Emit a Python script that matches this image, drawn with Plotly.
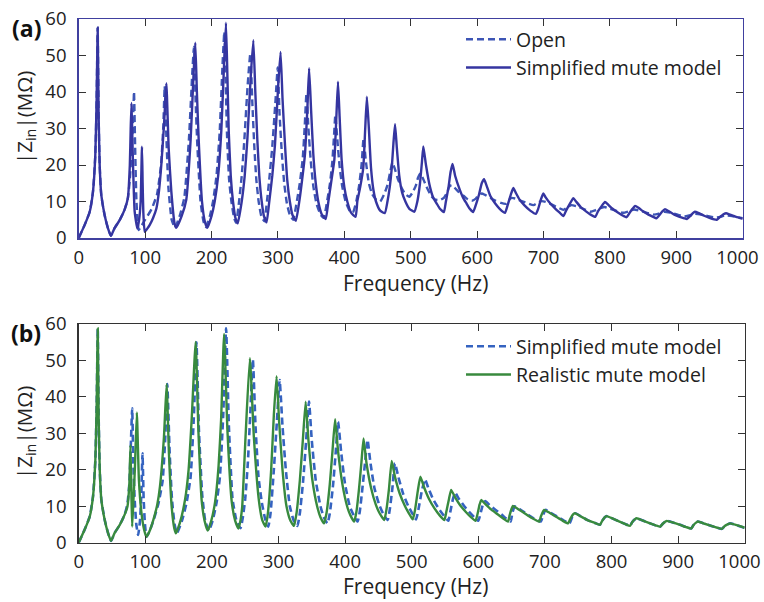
import plotly.graph_objects as go

# ---------------- data ----------------
x_ticks = [0, 100, 200, 300, 400, 500, 600, 700, 800, 900, 1000]
x_tick_labels = ["0", "100", "200", "300", "400", "500", "600", "700", "800", "900", "1000"]
y_ticks = [0, 10, 20, 30, 40, 50, 60]

# panel (a): open bell (dashed)
a_open_pts = [
    (0, 0), (9, 3.6), (16.6, 7.2), (21.5, 12.7), (25, 22.7), (27, 38), (28.6, 57.6), (30, 33.7), (31.6, 20),
    (34, 11.8), (39, 6.3), (44, 2.7), (48.5, 0.6), (54, 2.7), (61.7, 4.9), (69, 7.7), (74, 10.9), (77, 16),
    (80, 25), (82, 33), (83.3, 40.1), (85, 25), (87, 10), (90.4, 2.2), (95, 3.5), (100, 5), (110, 8),
    (118, 12), (124, 20), (127.5, 31), (129.5, 41.6), (132, 28), (135, 14), (140, 5), (145, 2.8),
    (152, 6), (159, 11), (166, 27), (171, 45), (173.6, 52.4), (176, 38), (178.5, 26), (183.5, 10), (188, 4.5), (191.5, 3),
    (197.5, 6), (202.3, 10), (207.5, 17), (212.3, 29), (216.5, 47), (219.3, 56.5), (221.5, 42), (223.4, 28),
    (226.5, 16), (230, 10), (234, 5.5), (237, 4.2),
    (241.5, 10), (245.5, 17), (249.5, 27), (254.5, 42), (258.5, 50.6), (261.5, 37), (264.5, 25), (267.5, 16),
    (271, 10), (275, 6), (279.5, 4.6),
    (283.5, 10), (287.5, 17), (291.5, 25), (296.5, 38), (299.7, 46.7), (302.5, 34), (306, 23), (309.5, 15),
    (313.5, 9.5), (318, 6.3), (323, 5),
    (328.5, 10), (333, 15), (337.5, 22), (340.5, 31), (343, 39.6), (346, 30), (349.5, 21), (353.5, 14),
    (358, 9.5), (364, 6.5), (369, 5.5),
    (374, 10), (378.5, 15), (382, 21), (384.5, 28), (386.5, 33.7), (389.5, 27), (393, 19.5), (397, 14),
    (402, 10), (408, 7.5), (413, 7),
    (418, 10), (422, 14), (426, 20), (429, 27.3), (432.5, 21), (437, 15), (442, 12), (448, 10.5), (454, 10),
    (460, 12), (465, 14.5), (469, 18), (472.5, 20.7), (476, 19), (481, 16), (487, 13.5), (492, 12), (498, 11.3),
    (503, 12.5), (508, 14.5), (511, 16.5), (514.5, 17.7), (518, 16.5), (524, 14), (531, 11.5), (537, 10.5), (544, 10.4),
    (550, 11), (555, 12.5), (558, 14), (561.5, 14.5), (566, 13.8), (573, 12.5), (580, 11.5), (586, 10.6), (592, 10.2),
    (598, 10.8), (603, 11.8), (607, 12.2), (612, 11.8), (620, 11), (628, 10.2), (636, 9.6), (644, 9.4),
    (648, 10.4), (652, 11.0), (658, 10.8), (666, 10.2), (675, 9.6), (685, 9.0),
    (691, 9.6), (697, 10.1), (703, 9.9), (712, 9.2), (721, 8.4), (730, 7.7),
    (737, 8.5), (742, 9.0), (750, 8.7), (760, 8.0), (771, 7.2),
    (778, 7.6), (786, 8.2), (792, 8.5), (800, 8.0), (810, 7.4), (820, 6.9),
    (828, 7.3), (836, 7.8), (846, 7.4), (856, 6.9), (866, 6.4),
    (874, 6.7), (882, 7.2), (892, 6.9), (902, 6.4), (912, 5.9),
    (920, 6.2), (928, 6.6), (938, 6.4), (948, 6.0), (958, 5.6),
    (966, 5.8), (974, 6.2), (984, 6.0), (992, 5.7), (1000, 5.4),
]

# panel (a): simplified mute model (solid)
a_simp_pts = [
    (0, 0), (9, 3.6), (16.6, 7.2), (21.5, 12.7), (25, 22.7), (27, 38), (28.6, 57.6), (30, 33.7), (31.6, 20),
    (34, 11.8), (39, 6.3), (44, 2.7), (48.5, 0.6), (54, 2.7), (61.7, 4.9), (69, 7.7), (74, 10.9), (77, 20),
    (78.3, 30), (79.5, 37), (80.5, 30), (81.8, 20), (84.3, 7.2), (88.3, 2.6), (91, 5), (93.3, 10), (95.3, 25),
    (96.3, 15), (97.3, 7.2), (99.4, 1.7), (103, 2.5), (107, 3.6), (112, 5.5), (117, 8.1), (121, 13), (124.4, 20),
    (128.5, 31), (132, 42.4), (135.5, 24.6), (139.5, 12.7), (144.6, 3.8), (147, 2.8),
    (155, 6), (162, 10.5), (168.6, 27), (173, 45), (175.6, 53.5), (178, 40), (180.7, 27), (185.7, 10), (190, 4.5), (193.7, 2.8),
    (200, 6), (204.8, 10), (210, 17), (214.8, 29.5), (219, 48), (221.8, 59), (224, 44), (225.9, 29.5), (229, 17),
    (232.4, 10), (236, 5.5), (239.5, 4.0),
    (245.5, 10), (250, 17), (254, 27), (259, 44), (263, 54.2), (266, 40), (269, 27), (272, 17), (275.6, 10), (279, 6), (283, 4.3),
    (287, 10), (291.5, 17), (295.6, 25.5), (300.5, 42), (304, 51), (307, 38), (310.7, 25.5), (314, 16), (318, 10), (322, 6.3), (327, 4.7),
    (332.2, 10), (336.5, 16), (340.8, 23), (344.5, 36), (347, 46.5), (350, 35), (353.3, 23), (357, 15), (360.8, 10), (366, 6.5), (372, 5.2),
    (376, 10), (380, 15), (385, 21.4), (388, 33), (390.5, 42.8), (393, 33), (396, 21.4), (400, 14), (404.5, 10), (410, 7), (417, 5.8),
    (419.6, 10), (424, 14), (428.6, 19.3), (431.5, 30), (434, 38.7), (437, 30), (440.2, 19.3), (444, 13), (447.7, 10), (454, 7.5), (461, 6.8),
    (465, 10), (468.5, 14), (471.4, 19), (474, 26), (476.4, 31.2), (479, 25), (482.8, 17), (487, 12.5), (492, 10), (498, 8), (505.5, 7.2),
    (510, 10), (514, 15), (517, 21), (519, 25.1), (523, 20), (529, 14), (534, 11), (539, 9.5), (544, 8), (550, 7.1),
    (553, 10), (557, 14), (560, 18), (563, 20.3), (567, 17), (574, 13.2), (579, 11), (584, 9.5), (589, 8), (594, 7.1),
    (598, 9), (603, 12), (607, 15), (610.5, 16.1), (614, 14.5), (620, 11.5), (627, 9.5), (634, 8), (642, 6.9),
    (646, 9), (651, 12), (654.6, 13.7), (658, 12.5), (664, 10.5), (671, 9), (680, 7.5), (688.5, 6.6),
    (692, 8), (696, 10.5), (699.7, 12.2), (703, 11.2), (710, 9.5), (718, 8), (724, 7), (730, 6.0),
    (734, 7.5), (740, 9.5), (745, 10.9), (749, 10), (756, 8.5), (764, 7.3), (771, 6.4), (778, 5.8),
    (782, 7.3), (787, 8.6), (792.6, 9.9), (797, 9.2), (804, 8), (812, 7), (820, 6.1), (825, 5.7),
    (830, 7), (834, 8), (838, 8.8), (843, 8.3), (850, 7.3), (858, 6.4), (865, 5.8), (870, 5.4),
    (875, 6.4), (879, 7.3), (883, 7.9), (889, 7.3), (897, 6.4), (905, 5.8), (912, 5.4), (916, 5.2),
    (921, 6), (925, 6.8), (928, 7.2), (934, 6.8), (942, 6.1), (950, 5.5), (957, 5.1), (961, 5.0),
    (966, 5.8), (971, 6.5), (975, 6.8), (981, 6.4), (990, 5.8), (1000, 5.3),
]

# panel (b): simplified mute model (dashed)
b_simp_pts = [
    (0, 0), (9, 3.6), (16.6, 7.2), (21.5, 12.7), (25, 22.7), (27, 38), (28.6, 58.8), (30, 34), (31.6, 20),
    (34, 11.8), (39, 6.3), (44, 2.7), (48.5, 0.5), (54, 2.7), (61.7, 4.9), (69, 7.7), (73, 10.5), (76, 16),
    (78.5, 28), (80.3, 36.9), (82, 22), (84, 12), (86.5, 5), (89.3, 2.1), (92, 6), (94, 13), (95.8, 24.5),
    (97.5, 12), (99.5, 5), (101.8, 1.6),
    (106, 3), (113, 6.5), (120, 11), (126, 17), (130, 29), (133, 43.5), (136.5, 25), (140, 12), (144, 5), (147.5, 2.6),
    (155, 6), (162, 11), (168, 18), (173, 35), (176.8, 55), (180.5, 31), (185.5, 13), (190, 6), (195.5, 3.3),
    (201, 6), (207, 11), (212, 18), (217, 35), (221.3, 58.8), (225.5, 32), (231, 12), (237, 6), (243, 4.0),
    (246.5, 7), (250, 12), (254, 22), (257.5, 35), (261.5, 50.3), (265.5, 32), (270, 18), (275, 11), (280, 6.5), (284.6, 4.4),
    (288, 8), (293, 20), (297.5, 33), (301.7, 44.6), (306, 32), (311, 20), (317, 10), (323, 6), (328.3, 4.6),
    (332, 8), (337, 17), (341.5, 28), (345.8, 38.7), (350, 28), (356, 17), (363, 10), (368, 7), (373.5, 5.3),
    (377, 8), (382, 16), (386, 25), (389.5, 33.2), (394, 25), (400, 16), (407, 10), (413, 7.5), (418.7, 5.8),
    (422, 8.5), (426, 15), (430, 22), (433.7, 28.2), (438, 22), (444, 15), (451, 10.5), (457, 8), (463.9, 6.2),
    (467, 9), (471, 15), (474.8, 21.8), (480, 18), (487, 13.5), (495, 10), (501, 8), (506.5, 6.4),
    (510, 9), (515, 14), (520, 17.4), (525, 15), (532, 12), (540, 9.5), (548, 7.5), (555, 6.0),
    (558, 8.5), (562, 12), (565.2, 13.7), (571, 12), (579, 10), (587, 8.3), (594, 7), (600, 6.0),
    (604, 8.5), (607, 10.5), (610.4, 11.4), (617, 10.3), (626, 9), (635, 7.7), (642, 6.6), (648.5, 5.8),
    (651, 8), (654.5, 10), (662, 9.2), (672, 8), (682, 6.8), (694, 5.8),
    (697, 7.5), (701, 9.0), (709, 8.2), (719, 7.1), (728, 6.1), (737, 5.3),
    (741, 7), (746, 8.1), (754, 7.2), (764, 6.2), (774, 5.5), (782.6, 4.9),
    (786, 6), (790, 7), (792.6, 7.3), (802, 6.6), (812, 5.8), (821, 5.1), (827.7, 4.6),
    (831, 5.6), (835, 6.4), (837.8, 6.7), (848, 6.0), (858, 5.3), (867, 4.7), (872.9, 4.4),
    (877, 5.2), (881, 5.8), (883, 6.0), (893, 5.5), (903, 4.9), (912, 4.3), (919.6, 3.9),
    (923, 4.8), (927, 5.5), (929.7, 5.8), (940, 5.2), (950, 4.6), (959, 4.1), (965.8, 3.8),
    (970, 4.6), (975, 5.1), (978.3, 5.3), (988, 4.8), (1000, 4.1),
]

# panel (b): realistic mute model (solid green)
b_real_pts = [
    (0, 0), (9, 3.6), (16.6, 7.2), (21.5, 12.7), (25, 22.7), (27, 38), (28.6, 58.8), (30, 34), (31.6, 20),
    (34, 11.8), (39, 6.3), (44, 2.7), (48.5, 0.5), (54, 2.7), (61.7, 4.9), (69, 7.7), (73.2, 9.9), (76, 16),
    (77.8, 26.8), (79.3, 12), (80.3, 4.4), (82.3, 12), (84.3, 20), (87.3, 35.7), (90.4, 17.2), (94.3, 8.1),
    (98.3, 3.5), (101.8, 1.6),
    (106, 3), (112, 6.2), (118, 10.5), (122, 15.4), (128, 29), (132, 43.5), (135.5, 24.5), (139.6, 9.9), (143.5, 4), (146, 2.6),
    (152, 5.5), (159.6, 11.7), (165, 20), (169.6, 33.7), (175.6, 55.1), (179.7, 30.9), (184.6, 11.7), (189, 6), (193.7, 3.3),
    (199, 6), (204.8, 11.2), (210, 21), (213.8, 33.7), (218.3, 57.3), (223.3, 30.9), (229.8, 11.2), (235, 6), (240, 3.9),
    (243, 6.2), (245.5, 9.9), (250.5, 29), (257, 50.6), (263, 29), (270.5, 11.7), (275.6, 6.2), (280.6, 4.4),
    (284, 8), (289, 20), (293, 35), (297.1, 45.7), (301, 33), (306, 20), (312, 10), (318, 6), (323.2, 4.6),
    (327, 8), (332, 17), (336.5, 28), (340.8, 38.7), (345, 28), (351, 17), (358, 10), (363, 7), (368.4, 5.3),
    (372, 8), (377, 16), (381, 25), (385, 33.9), (389.5, 25), (396, 16), (403, 10), (408, 7.5), (413.6, 5.8),
    (417, 8.5), (421, 15), (424.5, 22), (427.7, 28.6), (432, 22), (439, 15), (446, 10.5), (452, 8), (458.8, 6.2),
    (462, 9), (466, 15), (470, 22.4), (475, 18), (482, 13.5), (490, 10), (496, 8), (501.5, 6.4),
    (505, 9), (509, 14), (513, 18.1), (518, 15.5), (526, 12), (534, 9.5), (542, 7.5), (549, 6.2),
    (552, 8.5), (556, 12), (559.2, 14.5), (565, 12.5), (573, 10.2), (581, 8.5), (589, 7), (595.8, 6.0),
    (599, 8), (602, 10.5), (604.4, 11.7), (611, 10.5), (620, 9), (629, 7.8), (637, 6.7), (644.6, 5.8),
    (647, 7.5), (650, 9.3), (652, 10.1), (660, 9.2), (670, 8), (680, 6.8), (691.3, 5.8),
    (694, 7.2), (697, 8.5), (698.8, 9.0), (707, 8.2), (717, 7.1), (726, 6.1), (734.9, 5.3),
    (738, 6.5), (742, 7.7), (744.9, 8.1), (754, 7.2), (764, 6.2), (774, 5.5), (782.6, 4.9),
    (786, 6), (790, 7), (792.6, 7.3), (802, 6.6), (812, 5.8), (821, 5.1), (827.7, 4.6),
    (831, 5.6), (835, 6.4), (837.8, 6.7), (848, 6.0), (858, 5.3), (867, 4.7), (872.9, 4.4),
    (877, 5.2), (881, 5.8), (883, 6.0), (893, 5.5), (903, 4.9), (912, 4.3), (919.6, 3.9),
    (923, 4.8), (927, 5.5), (929.7, 5.8), (940, 5.2), (950, 4.6), (959, 4.1), (965.8, 3.8),
    (970, 4.6), (975, 5.1), (978.3, 5.3), (988, 4.8), (1000, 4.1),
]

series_names_a = ["Open", "Simplified mute model"]
series_names_b = ["Simplified mute model", "Realistic mute model"]


def split(pts):
    f, z = zip(*pts)
    return list(f), list(z)


# ---------------- styling ----------------
W, H = 764, 602
FONT = "Open Sans"
TXT = "#222222"
col_a_open = "#3d55b5"
col_a_simp = "#3535a0"
col_b_simp = "#3563c0"
col_b_real = "#388a3e"
frame_a = "#40409f"
frame_b = "#333333"
SMOOTH = 0.45


def px_x(p):
    return p / W


def px_y(p):
    return 1 - p / H


fig = go.Figure()

f, z = split(a_open_pts)
fig.add_trace(go.Scatter(x=f, y=z, mode="lines", name=series_names_a[0], xaxis="x", yaxis="y",
                         line=dict(color=col_a_open, width=2.4, dash="7px,4px", shape="spline", smoothing=SMOOTH),
                         legend="legend"))
f, z = split(a_simp_pts)
fig.add_trace(go.Scatter(x=f, y=z, mode="lines", name=series_names_a[1], xaxis="x", yaxis="y",
                         line=dict(color=col_a_simp, width=2.4, shape="spline", smoothing=SMOOTH),
                         legend="legend"))
f, z = split(b_simp_pts)
fig.add_trace(go.Scatter(x=f, y=z, mode="lines", name=series_names_b[0], xaxis="x2", yaxis="y2",
                         line=dict(color=col_b_simp, width=2.6, dash="7px,4px", shape="spline", smoothing=SMOOTH),
                         legend="legend2"))
f, z = split(b_real_pts)
fig.add_trace(go.Scatter(x=f, y=z, mode="lines", name=series_names_b[1], xaxis="x2", yaxis="y2",
                         line=dict(color=col_b_real, width=2.4, shape="spline", smoothing=SMOOTH),
                         legend="legend2"))

# the last x label sits a little to the left, as in the reference (invisible padding glyph)
x_tick_text = x_tick_labels[:-1] + [x_tick_labels[-1] + "<span style='color:rgba(0,0,0,0)'>0</span>"]


def xaxis_cfg(domain, anchor, lc):
    return dict(domain=domain, anchor=anchor, range=[0, 1000], tickvals=x_ticks,
                ticktext=x_tick_text, ticks="inside", ticklen=7, tickwidth=1,
                tickcolor="#333", showline=True, linecolor=lc, linewidth=1.5, mirror="ticks",
                showgrid=False, zeroline=False, tickfont=dict(family=FONT, size=18.5, color=TXT),
                ticklabelstandoff=2, automargin=False, ticklabeloverflow="allow")


def yaxis_cfg(domain, anchor, lc):
    return dict(domain=domain, anchor=anchor, range=[0, 60], tickvals=y_ticks,
                ticktext=[str(v) for v in y_ticks], ticks="inside", ticklen=7, tickwidth=1,
                tickcolor="#333", showline=True, linecolor=lc, linewidth=1.5, mirror="ticks",
                showgrid=False, zeroline=False, tickfont=dict(family=FONT, size=18.5, color=TXT),
                ticklabelstandoff=7, automargin=False, ticklabeloverflow="allow")


fig.update_layout(
    template="none",
    width=W, height=H, margin=dict(l=0, r=0, t=0, b=0, pad=0, autoexpand=False),
    paper_bgcolor="white", plot_bgcolor="white",
    font=dict(family=FONT, color=TXT),
    xaxis=xaxis_cfg([px_x(78.7), px_x(742.7)], "y", frame_a),
    yaxis=yaxis_cfg([px_y(238), px_y(19)], "x", frame_a),
    xaxis2=xaxis_cfg([px_x(78.7), px_x(744.7)], "y2", frame_b),
    yaxis2=yaxis_cfg([px_y(542.7), px_y(324)], "x2", frame_b),
    legend=dict(x=px_x(461), y=px_y(20), xanchor="left", yanchor="top", bgcolor="rgba(0,0,0,0)",
                font=dict(family=FONT, size=19.5, color=TXT), itemwidth=45, tracegroupgap=0),
    legend2=dict(x=px_x(461), y=px_y(327), xanchor="left", yanchor="top", bgcolor="rgba(0,0,0,0)",
                 font=dict(family=FONT, size=19.5, color=TXT), itemwidth=45, tracegroupgap=0),
    showlegend=True,
)


def ann(text, x, y, size, angle=0, color=TXT):
    return dict(text=text, x=px_x(x), y=px_y(y), xref="paper", yref="paper", showarrow=False,
                xanchor="center", yanchor="middle", textangle=angle,
                font=dict(family=FONT, size=size, color=color))


annotations = [
    ann("<b>(a)</b>", 26, 28, 23, color="#111"),
    ann("<b>(b)</b>", 26, 333, 23, color="#111"),
    ann("|Z<sub>in</sub>|(MΩ)", 25, 118, 20.5, -90),
    ann("|Z<sub>in</sub>|(MΩ)", 25, 433, 20.5, -90),
    ann("Frequency (Hz)", 415, 283, 21),
    ann("Frequency (Hz)", 415, 586, 21),
]
fig.update_layout(annotations=annotations)

# remove the page's default body margin so the figure fills the window exactly
fig.write_html("out.html",
               config={"displayModeBar": False, "staticPlot": True},
               post_script="document.body.style.margin='0';document.body.style.overflow='hidden';")
